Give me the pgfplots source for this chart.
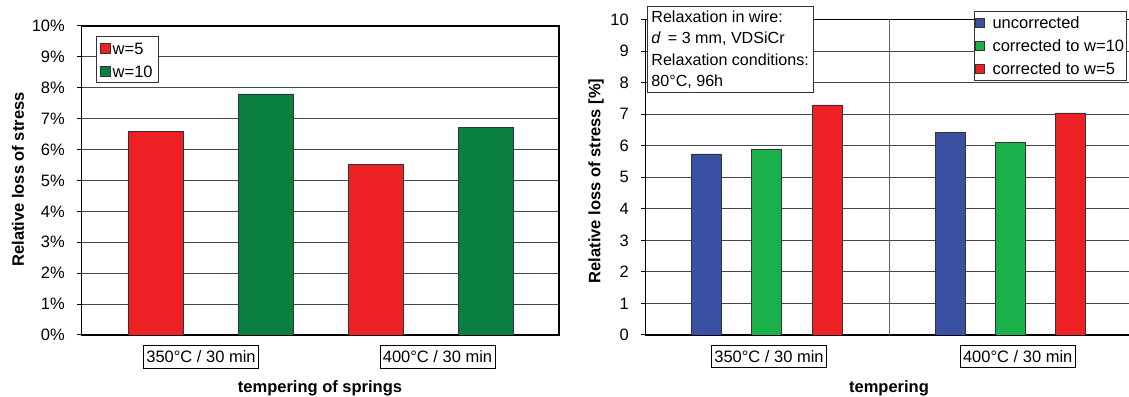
\documentclass[border=0pt]{standalone}
\usepackage{fontspec}
\setmainfont{Liberation Sans}
\usepackage{pgfplots}
\pgfplotsset{compat=1.18}
\definecolor{cred}{RGB}{237,32,36}
\definecolor{dgreen}{RGB}{10,128,64}
\definecolor{cblue}{RGB}{58,81,163}
\definecolor{lgreen}{RGB}{26,176,74}
\newcommand{\fs}{\fontsize{16.5pt}{19pt}\selectfont}
\pgfplotsset{
  common/.style={
    scale only axis,
    ymin=0, ymax=10,
    ybar, bar shift=0pt,
    ytick={0,1,...,10},
    /pgf/number format/assume math mode=true,
    tick align=outside, ytick pos=left, major tick length=5pt,
    xtick style={draw=none},
    ytick style={draw=black, line width=1pt},
    ymajorgrids, major grid style={draw=black!72, line width=1pt},
    axis line style={black, line width=1.2pt},
    yticklabel style={font=\fs, anchor=east, inner sep=0pt, xshift=-11.7pt},
    xticklabel style={font=\fs, anchor=north, draw=black, line width=0.8pt, inner xsep=2.8pt, inner ysep=5pt, text height=12.3pt, text depth=0pt, yshift=-5.2pt},
    legend cell align=left,
    every axis plot/.append style={draw=black!80, line width=0.6pt},
  }
}
\begin{document}
\begin{tikzpicture}[x=1pt,y=1pt]
\useasboundingbox (0,0) rectangle (1129,396);
% ---------------- left chart ----------------
\begin{axis}[common,
  at={(81.7pt,61pt)}, anchor=south west,
  width=477.3pt, height=309pt,
  xmin=81.7, xmax=559,
  bar width=55,
  yticklabel={\pgfmathprintnumber{\tick}\%},
  xtick={201,437.5},
  xticklabels={350°C / 30 min, 400°C / 30 min},
  legend style={at={(rel axis cs:0.030,0.9676)}, anchor=north west, draw=black!80, line width=0.8pt, font=\fs,
    inner xsep=3.7pt, inner ysep=3.7pt, row sep=7pt,
    nodes={inner sep=2pt, text height=12pt, text depth=0pt}},
  legend image code/.code={\draw[#1, draw=black!80, line width=0.6pt] (0pt,-5pt) rectangle (10pt,5pt);},
]
\addplot[fill=cred] coordinates {(155.5,6.58) (376,5.52)};
\addplot[fill=dgreen] coordinates {(265.5,7.80) (486,6.73)};
\legend{w=5, w=10}
\draw[black, line width=1pt] (axis cs:81.7,0) -- ++(0pt,-5pt);
\draw[black!70, line width=1pt] (axis cs:559,0) -- ++(0pt,-5pt);
\end{axis}
\node[font=\bfseries\fs, rotate=90] at (18,216.5) {Relative loss of stress};
\node[font=\bfseries\fs, anchor=base] at (320,4) {tempering of springs};
% ---------------- right chart ----------------
\begin{axis}[common,
  at={(645.7pt,61pt)}, anchor=south west,
  width=486.6pt, height=315.5pt,
  xmin=645.7, xmax=1132.3,
  bar width=30,
  xtick={769,1017.7},
  xticklabels={350°C / 30 min, 400°C / 30 min},
  legend style={at={(rel axis cs:0.6747,1.028)}, anchor=north west, draw=black!80, line width=0.8pt, font=\fs,
    inner xsep=0.5pt, inner ysep=3.7pt, row sep=7pt,
    nodes={inner sep=2pt, text height=12pt, text depth=0pt}},
  legend image code/.code={\draw[#1, draw=black!80, line width=0.6pt] (0pt,-4.5pt) rectangle (9pt,4.5pt); \path (15pt,0pt);},
]
\addplot[fill=cblue] coordinates {(706.7,5.74) (950.5,6.42)};
\addplot[fill=lgreen] coordinates {(766.7,5.89) (1010.5,6.10)};
\addplot[fill=cred] coordinates {(827.3,7.29) (1070.5,7.04)};
\legend{uncorrected, corrected to w=10, corrected to w=5}
\draw[black!60, line width=1pt] (axis cs:889,0) ++(0pt,-6pt) -- (axis cs:889,10);
\draw[black, line width=1pt] (axis cs:645.7,0) -- ++(0pt,-6pt);
\end{axis}
\node[draw=black!80, line width=0.8pt, fill=white, anchor=north west, align=left,
  font=\fontsize{16.1pt}{21.5pt}\selectfont, inner xsep=4pt, inner ysep=4pt] at (647,390)
  {Relaxation in wire:\\ \textit{d}\,\ = 3 mm, VDSiCr\\ Relaxation conditions:\\ 80°C, 96h};
\node[font=\bfseries\fs, rotate=90] at (596,215) {Relative loss of stress [\%]};
\node[font=\bfseries\fs, anchor=base] at (889,4) {tempering};
\end{tikzpicture}
\end{document}
